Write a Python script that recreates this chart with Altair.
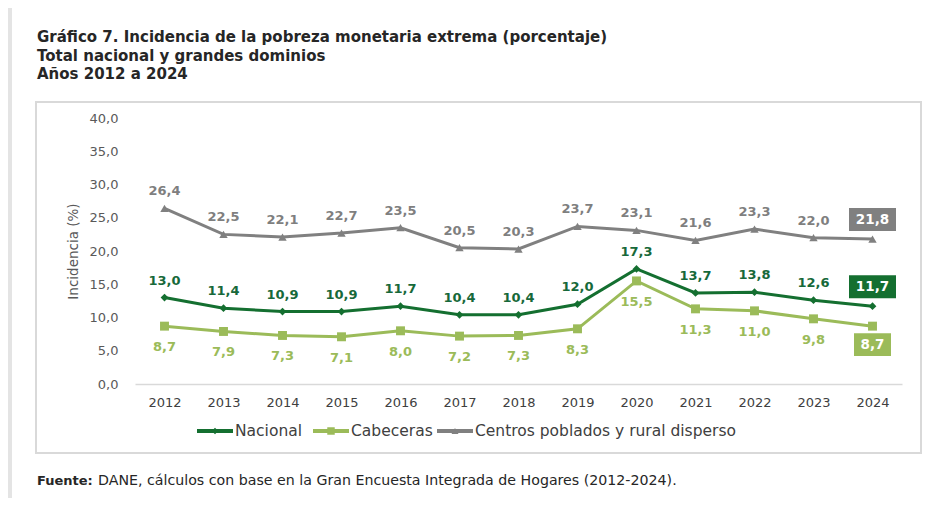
import altair as alt
import pandas as pd

# ---- data ----
years = [2012, 2013, 2014, 2015, 2016, 2017, 2018, 2019, 2020, 2021, 2022, 2023, 2024]
nacional = [13.0, 11.4, 10.9, 10.9, 11.7, 10.4, 10.4, 12.0, 17.3, 13.7, 13.8, 12.6, 11.7]
cabeceras = [8.7, 7.9, 7.3, 7.1, 8.0, 7.2, 7.3, 8.3, 15.5, 11.3, 11.0, 9.8, 8.7]
rural = [26.4, 22.5, 22.1, 22.7, 23.5, 20.5, 20.3, 23.7, 23.1, 21.6, 23.3, 22.0, 21.8]
series_names = ["Nacional", "Cabeceras", "Centros poblados y rural disperso"]
y_ticks = [0, 5, 10, 15, 20, 25, 30, 35, 40]

title_lines = [
    "Gráfico 7. Incidencia de la pobreza monetaria extrema (porcentaje)",
    "Total nacional y grandes dominios",
    "Años 2012 a 2024",
]
source_bold = "Fuente:"
source_text = "DANE, cálculos con base en la Gran Encuesta Integrada de Hogares (2012-2024)."
y_title = "Incidencia (%)"

FONT = "DejaVu Sans"
W, H = 767, 266

values_by_series = {"Nacional": nacional, "Cabeceras": cabeceras,
                    "Centros poblados y rural disperso": rural}
rows = []
for s in series_names:
    for i, (yr, v) in enumerate(zip(years, values_by_series[s])):
        rows.append({"serie": s, "year": str(yr), "v": v, "last": i == len(years) - 1})
df = pd.DataFrame(rows)

style = {
    "Nacional": dict(color="#146f30", label="#17693a", shape="diamond", size=60,
                     dy=-17, box_dy=-19.5,
                     box_shape="M-1,-0.49L1,-0.49L1,0.49L-1,0.49Z", box_size=2209),
    "Cabeceras": dict(color="#9bbb59", label="#9bbb59", shape="square", size=80,
                      dy=21, box_dy=18.5,
                      box_shape="M-1,-0.62L1,-0.62L1,0.62L-1,0.62Z", box_size=1369),
    "Centros poblados y rural disperso": dict(color="#808080", label="#7f7f7f",
                      shape="triangle-up", size=70, dy=-17, box_dy=-19.5,
                      box_shape="M-1,-0.49L1,-0.49L1,0.49L-1,0.49Z", box_size=2209),
}

x_enc = alt.X("year:O", scale=alt.Scale(type="point", padding=0.5),
              axis=alt.Axis(title=None, labelAngle=0, ticks=False, domainColor="#d9d9d9",
                            domainWidth=1.5, labelPadding=12, labelFont=FONT,
                            labelFontSize=13, labelColor="#404040", grid=False))
y_enc = alt.Y("v:Q", scale=alt.Scale(domain=[0, 40], nice=False),
              axis=alt.Axis(values=y_ticks, title=y_title, domain=False, ticks=False,
                            grid=False, labelPadding=17, labelFont=FONT, labelFontSize=13,
                            labelColor="#595959",
                            labelExpr="replace(format(datum.value, '.1f'), '.', ',')",
                            titleFont=FONT, titleFontSize=13.5, titleFontWeight="normal",
                            titleColor="#595959", titleX=-62, titleY=133, titleAngle=-90,
                            titleAlign="center", titleBaseline="middle"))

blank = alt.Data(values=[{}])
layers = []

# frame
layers.append(alt.Chart(blank).mark_rect(fill="#e4e4e4").encode(
    x=alt.value(-127), x2=alt.value(-123), y=alt.value(-110), y2=alt.value(380)))
layers.append(alt.Chart(blank).mark_rect(filled=False, stroke="#d9d9d9", strokeWidth=2).encode(
    x=alt.value(-99), x2=alt.value(786), y=alt.value(-16), y2=alt.value(335)))

base = alt.Chart(df).transform_calculate(
    lab="replace(format(datum.v, '.1f'), '.', ',')")

for s in series_names:
    st = style[s]
    b = base.transform_filter(alt.datum.serie == s)
    layers.append(b.mark_line(color=st["color"], strokeWidth=3).encode(x=x_enc, y=y_enc))
for s in series_names:
    st = style[s]
    b = base.transform_filter(alt.datum.serie == s)
    layers.append(b.mark_point(shape=st["shape"], size=st["size"], filled=True,
                               color=st["color"], opacity=1).encode(x=x_enc, y=y_enc))
    layers.append(b.transform_filter("!datum.last").mark_text(
        dy=st["dy"], font=FONT, fontSize=13, fontWeight="bold", color=st["label"]
    ).encode(x=x_enc, y=y_enc, text="lab:N"))
    layers.append(b.transform_filter("datum.last").mark_point(
        shape=st["box_shape"], size=st["box_size"], filled=True, color=st["color"],
        opacity=1, yOffset=st["box_dy"]).encode(x=x_enc, y=y_enc))
    layers.append(b.transform_filter("datum.last").mark_text(
        dy=st["box_dy"], font=FONT, fontSize=13.5, fontWeight="bold", color="white"
    ).encode(x=x_enc, y=y_enc, text="lab:N"))

# titles
for i, (t, yy) in enumerate(zip(title_lines, [-81, -62, -44])):
    layers.append(alt.Chart(blank).mark_text(
        text=t, align="left", baseline="middle", font=FONT, fontSize=15,
        fontWeight="bold", color="#262626").encode(x=alt.value(-98), y=alt.value(yy)))

# legend
leg_x = {"Nacional": 62, "Cabeceras": 178, "Centros poblados y rural disperso": 302}
LEG_Y = 313
for s in series_names:
    st = style[s]
    x0 = leg_x[s]
    layers.append(alt.Chart(blank).mark_rule(color=st["color"], strokeWidth=4).encode(
        x=alt.value(x0), x2=alt.value(x0 + 36), y=alt.value(LEG_Y)))
    layers.append(alt.Chart(blank).mark_point(shape=st["shape"], size=st["size"] * 0.7,
                                              filled=True, color=st["color"], opacity=1).encode(
        x=alt.value(x0 + 18), y=alt.value(LEG_Y)))
    layers.append(alt.Chart(blank).mark_text(
        text=s, align="left", baseline="middle", font=FONT, fontSize=15.5,
        color="#404040").encode(x=alt.value(x0 + 38), y=alt.value(LEG_Y)))

# source
layers.append(alt.Chart(blank).mark_text(
    text=source_bold, align="left", baseline="middle", font=FONT, fontSize=13,
    fontWeight="bold", color="#262626").encode(x=alt.value(-98), y=alt.value(363)))
layers.append(alt.Chart(blank).mark_text(
    text=source_text, align="left", baseline="middle", font=FONT, fontSize=14.2,
    color="#262626").encode(x=alt.value(-37), y=alt.value(363)))

chart = alt.layer(*layers).properties(
    width=W, height=H,
    autosize=alt.AutoSizeParams(type="none"),
    padding={"left": 127, "top": 110, "right": 32, "bottom": 114},
    background="white",
).configure_view(stroke=None)

chart.save("out.html", embed_options={"renderer": "svg", "actions": False})
